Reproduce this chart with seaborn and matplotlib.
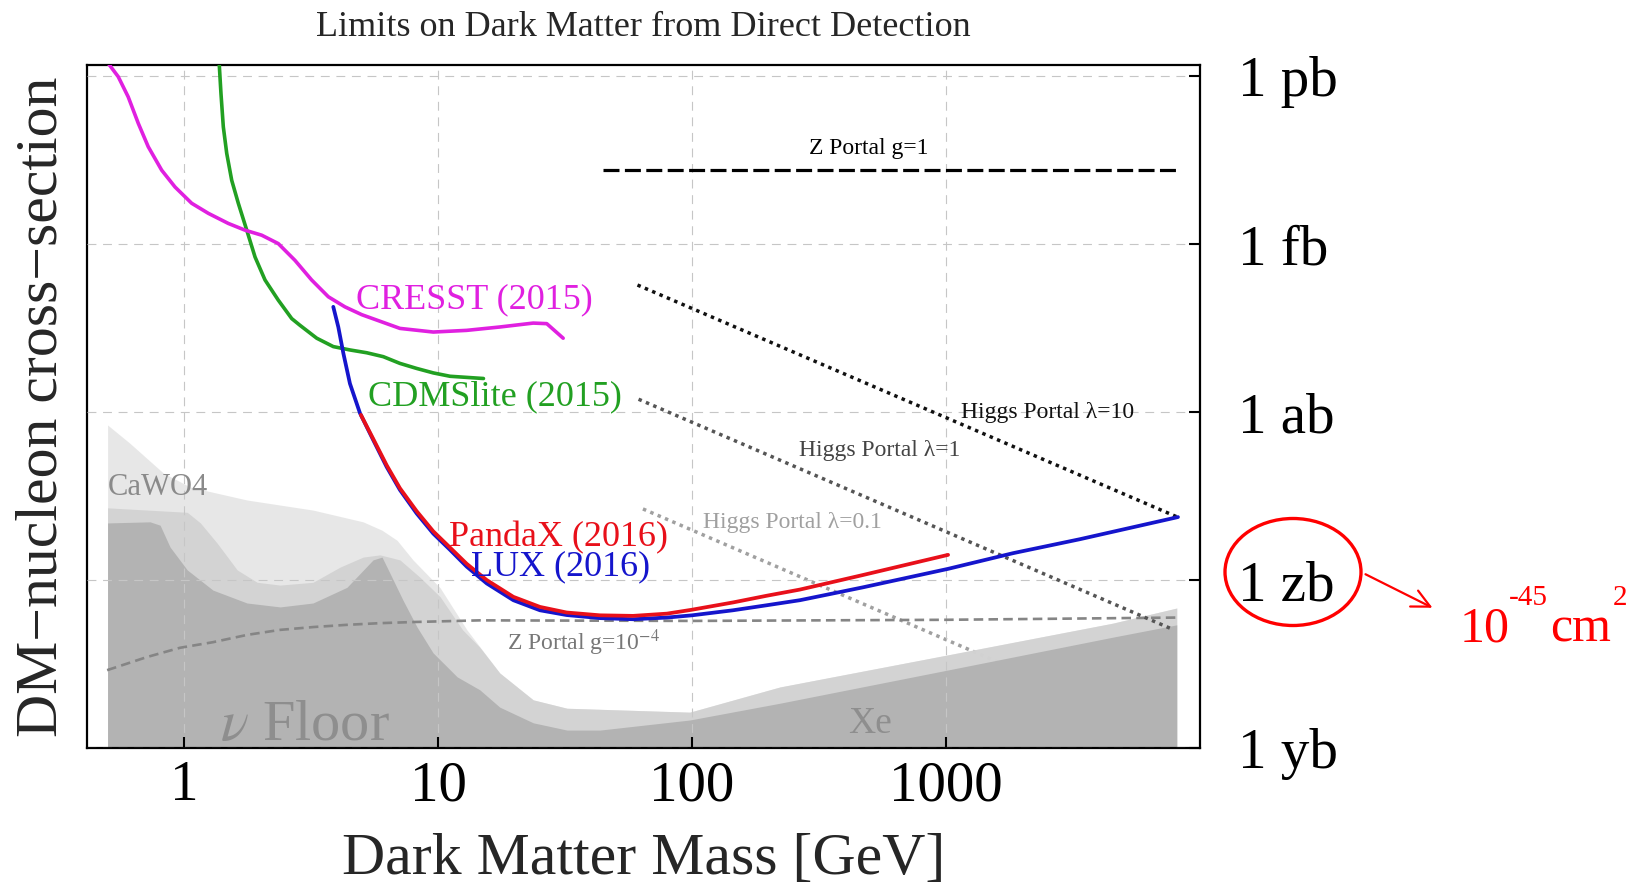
import numpy as np
import pandas as pd
import matplotlib
matplotlib.use("Agg")
import matplotlib.pyplot as plt
import seaborn as sns
from matplotlib.patches import Ellipse, FancyArrowPatch
from matplotlib.ticker import FixedLocator, NullLocator, FixedFormatter

# ---------------- data (mass in GeV, cross-section as log10(sigma / cm^2)) ----------------
cresst_mass = [0.48, 0.503, 0.551, 0.603, 0.661, 0.723, 0.817, 0.922, 1.072, 1.247, 1.494,
               1.738, 2.022, 2.35, 2.735, 3.18, 3.70, 4.30, 5.01, 7.08, 9.58, 12.97, 17.5,
               23.7, 26.8, 31.1]
cresst_logsig = [-35.65, -35.77, -36.01, -36.37, -36.845, -37.26, -37.68, -37.98, -38.27,
                 -38.45, -38.63, -38.75, -38.84, -38.99, -39.29, -39.64, -39.94, -40.12,
                 -40.26, -40.505, -40.57, -40.54, -40.48, -40.41, -40.42, -40.68]

cdms_mass = [1.368, 1.373, 1.398, 1.428, 1.473, 1.541, 1.636, 1.766, 1.904, 2.084, 2.35,
             2.655, 2.862, 3.33, 3.87, 4.50, 5.24, 6.09, 7.08, 8.24, 9.58, 11.15, 15.1]
cdms_logsig = [-35.62, -35.71, -36.31, -36.905, -37.38, -37.86, -38.27, -38.75, -39.23,
               -39.64, -40.0, -40.33, -40.45, -40.68, -40.83, -40.89, -40.94, -41.01, -41.13,
               -41.22, -41.30, -41.36, -41.40]

lux_mass = [3.87, 4.05, 4.24, 4.50, 4.93, 5.56, 6.28, 7.08, 8.24, 9.58, 11.15, 12.97, 15.55,
            19.8, 25.2, 32.1, 43.4, 58.6, 79.7, 100, 145, 197, 266, 471, 1019, 1836, 3370, 8190]
lux_logsig = [-40.12, -40.48, -40.95, -41.49, -42.02, -42.50, -42.98, -43.39, -43.81, -44.17,
              -44.46, -44.76, -45.06, -45.36, -45.54, -45.625, -45.68, -45.70, -45.67, -45.63,
              -45.54, -45.45, -45.36, -45.13, -44.80, -44.52, -44.27, -43.875]

pandax_mass = [4.97, 5.56, 6.28, 7.08, 8.24, 9.58, 11.15, 12.97, 15.55, 19.8, 25.2, 32.1,
               43.4, 58.6, 79.7, 100, 145, 197, 266, 471, 1019]
pandax_logsig = [-42.05, -42.48, -42.95, -43.36, -43.77, -44.13, -44.42, -44.71, -45.00,
                 -45.30, -45.48, -45.58, -45.63, -45.64, -45.60, -45.53, -45.40, -45.28,
                 -45.17, -44.91, -44.55]

zlow_mass = [0.498, 0.715, 0.964, 1.30, 1.77, 2.39, 3.22, 4.38, 5.91, 7.97, 14.6, 100, 1000, 8200]
zlow_logsig = [-46.61, -46.375, -46.21, -46.11, -45.98, -45.89, -45.84, -45.80, -45.77, -45.75,
               -45.72, -45.73, -45.71, -45.67]

zhigh_mass = [44.6, 8200]
zhigh_logsig = [-37.68, -37.68]

higgs10_mass = [61.0, 8200]
higgs10_logsig = [-39.73, -43.88]
higgs1_mass = [61.6, 7800]
higgs1_logsig = [-41.77, -45.88]
higgs01_mass = [64.1, 7800]
higgs01_logsig = [-43.73, -47.81]

# shaded neutrino-floor regions (top edges)
outer_mass = [0.5, 0.61, 0.83, 1.06, 1.77, 3.22, 5.07, 6.02, 6.90, 7.97, 10.2, 13.0, 17.5,
              23.7, 32.2, 98, 222, 1009, 4540, 8100]
outer_logsig = [-42.23, -42.55, -43.09, -43.34, -43.57, -43.75, -43.96, -44.11, -44.29, -44.64,
                -45.14, -45.89, -46.66, -47.14, -47.29, -47.36, -46.91, -46.34, -45.77, -45.50]

middle_mass = [0.5, 1.03, 1.16, 1.35, 1.62, 1.94, 2.39, 3.22, 4.11, 5.07, 5.91, 7.08, 8.49,
               10.2, 12.5, 14.6, 17.5, 23.7, 32.2, 98, 222, 1009, 4540, 8100]
middle_logsig = [-43.71, -43.79, -43.98, -44.34, -44.82, -45.04, -45.09, -45.04, -44.77, -44.59,
                 -44.55, -44.64, -44.95, -45.30, -45.89, -46.20, -46.66, -47.14, -47.29, -47.36,
                 -46.91, -46.34, -45.77, -45.50]

inner_mass = [0.5, 0.735, 0.805, 0.881, 1.03, 1.30, 1.77, 2.39, 3.22, 4.38, 5.55, 6.02, 6.47,
              7.28, 8.27, 9.56, 11.9, 14.6, 17.5, 23.7, 32.2, 43.4, 98, 222, 1009, 4540, 8100]
inner_logsig = [-43.98, -43.96, -44.02, -44.41, -44.82, -45.18, -45.41, -45.48, -45.41, -45.13,
                -44.64, -44.59, -44.88, -45.36, -45.84, -46.30, -46.73, -46.96, -47.27, -47.55,
                -47.68, -47.68, -47.50, -47.20, -46.61, -46.02, -45.80]

xtick_vals = [1, 10, 100, 1000]
xtick_labels = ["1", "10", "100", "1000"]
ytick_vals = [1e-36, 1e-39, 1e-42, 1e-45, 1e-48]
ytick_labels = ["1 pb", "1 fb", "1 ab", "1 zb", "1 yb"]


def sig(a):
    return 10.0 ** np.asarray(a, dtype=float)


sns.set_style("white")
plt.rcParams['font.family'] = ['Liberation Serif', 'DejaVu Serif']
plt.rcParams['mathtext.fontset'] = 'stix'

W, H = 1647, 888
fig = plt.figure(figsize=(W / 100, H / 100), dpi=100)
ax = fig.add_axes([87 / W, 1 - 748 / H, (1200 - 87) / W, (748 - 65) / H])
ax.set_xscale('log')
ax.set_yscale('log')

BOTTOM = 1e-49
ax.fill_between(outer_mass, sig(outer_logsig), BOTTOM, color='#e4e4e4', lw=0, alpha=0.86, zorder=1)
ax.fill_between(middle_mass, sig(middle_logsig), BOTTOM, color='#d0d0d0', lw=0, alpha=0.86, zorder=1.1)
ax.fill_between(inner_mass, sig(inner_logsig), BOTTOM, color='#aeaeae', lw=0, alpha=0.86, zorder=1.2)

common = dict(ax=ax, sort=False, estimator=None)
smooth = dict(solid_joinstyle='round', solid_capstyle='round')
sns.lineplot(x=higgs01_mass, y=sig(higgs01_logsig), color='#a0a0a0', linewidth=2.5,
             linestyle=(0, (1, 1.3)), zorder=0.9, **common)
sns.lineplot(x=zlow_mass, y=sig(zlow_logsig), color='#858585', linewidth=1.9,
             linestyle=(0, (3.6, 2.0)), zorder=3, **common)
sns.lineplot(x=zhigh_mass, y=sig(zhigh_logsig), color='black', linewidth=2.3,
             linestyle=(0, (5, 1.7)), zorder=3, **common)
sns.lineplot(x=higgs10_mass, y=sig(higgs10_logsig), color='#111111', linewidth=2.5,
             linestyle=(0, (1, 1.3)), zorder=3, **common)
sns.lineplot(x=higgs1_mass, y=sig(higgs1_logsig), color='#555555', linewidth=2.5,
             linestyle=(0, (1, 1.3)), zorder=3, **common)

sns.lineplot(x=cdms_mass, y=sig(cdms_logsig), color='#22a022', linewidth=2.6, zorder=3, **smooth, **common)
sns.lineplot(x=cresst_mass, y=sig(cresst_logsig), color='#e020e0', linewidth=2.6, zorder=3, **smooth, **common)
sns.lineplot(x=lux_mass, y=sig(lux_logsig), color='#1515cc', linewidth=2.7, zorder=3, **smooth, **common)
sns.lineplot(x=pandax_mass, y=sig(pandax_logsig), color='#e8101a', linewidth=2.7, zorder=3, **smooth, **common)

ax.set_xlim(0.415, 1e4)
ax.set_ylim(1e-48, 10 ** -35.8)

ax.xaxis.set_major_locator(FixedLocator(xtick_vals))
ax.xaxis.set_major_formatter(FixedFormatter(xtick_labels))
ax.xaxis.set_minor_locator(NullLocator())
ax.yaxis.set_major_locator(FixedLocator(ytick_vals))
ax.yaxis.set_major_formatter(FixedFormatter(ytick_labels))
ax.yaxis.set_minor_locator(NullLocator())
ax.yaxis.tick_right()
ax.yaxis.set_label_position('left')
ax.tick_params(axis='x', direction='in', length=8, width=1.5, labelsize=41, pad=9,
               top=False, bottom=True, colors='black')
ax.tick_params(axis='y', direction='in', length=8, width=1.5, labelsize=41, pad=27,
               left=False, right=True, colors='black')

ax.set_axisbelow(False)
ax.grid(True, which='major', linestyle=(0, (8, 6)), linewidth=0.8, color='#c6c6c6')
for s in ax.spines.values():
    s.set_color('black')
    s.set_linewidth(1.6)

ax.set_xlabel("Dark Matter Mass [GeV]", fontsize=43)
ax.set_ylabel("DM\u2212nucleon cross\u2212section", fontsize=43)
ax.xaxis.set_label_coords(0.5, -0.125)
ax.yaxis.set_label_coords(-0.0153, 0.5)
ax.set_title("Limits on Dark Matter from Direct Detection", fontsize=26, pad=21)

# curve labels
ax.text(13.9, sig(-40.0), "CRESST (2015)", color='#e020e0', fontsize=26, ha='center', va='center', zorder=4)
ax.text(16.8, sig(-41.73), "CDMSlite (2015)", color='#22a022', fontsize=26, ha='center', va='center', zorder=4)
ax.text(29.9, sig(-44.25), "PandaX (2016)", color='#e8101a', fontsize=26, ha='center', va='center', zorder=4)
ax.text(30.5, sig(-44.77), "LUX (2016)", color='#1515cc', fontsize=26, ha='center', va='center', zorder=4)
ax.text(498, sig(-37.30), "Z Portal g=1", color='black', fontsize=17, ha='center', va='center', zorder=4)
ax.text(2500, sig(-42.0), "Higgs Portal \u03bb=10", color='#111111', fontsize=17, ha='center', va='center', zorder=4)
ax.text(550, sig(-42.68), "Higgs Portal \u03bb=1", color='#444444', fontsize=17, ha='center', va='center', zorder=4)
ax.text(248, sig(-43.98), "Higgs Portal \u03bb=0.1", color='#a0a0a0', fontsize=17, ha='center', va='center', zorder=4)
ax.text(18.7, sig(-46.25), "Z Portal g=10$^{-4}$", color='#777777', fontsize=17, ha='left', va='baseline', zorder=4)
ax.text(0.5, sig(-43.34), "CaWO4", color='#8a8a8a', fontsize=22, ha='left', va='center', zorder=4)
ax.text(1.39, sig(-47.86), r"$\nu$ Floor", color='#8e8e8e', fontsize=42, ha='left', va='baseline', zorder=4)
ax.text(411, sig(-47.73), "Xe", color='#8e8e8e', fontsize=27, ha='left', va='baseline', zorder=4)

# red annotation around "1 zb"
red = '#ff0000'
fig.add_artist(Ellipse((1293 / W, 1 - 572 / H), 136 / W, 107 / H, transform=fig.transFigure,
                       fill=False, edgecolor=red, linewidth=2.4))
fig.add_artist(FancyArrowPatch((1363 / W, 1 - 573 / H), (1435 / W, 1 - 609 / H),
                               transform=fig.transFigure, arrowstyle="->,head_length=0.65,head_width=0.32",
                               mutation_scale=20, color=red, linewidth=1.6))
fig.text(1460 / W, 1 - 641 / H, "10", color=red, fontsize=36, ha='left', va='baseline')
fig.text(1509 / W, 1 - 605 / H, "-45", color=red, fontsize=21, ha='left', va='baseline')
fig.text(1550 / W, 1 - 641 / H, "cm", color=red, fontsize=36, ha='left', va='baseline')
fig.text(1613 / W, 1 - 605 / H, "2", color=red, fontsize=21, ha='left', va='baseline')

fig.savefig("out.png", dpi=100)
